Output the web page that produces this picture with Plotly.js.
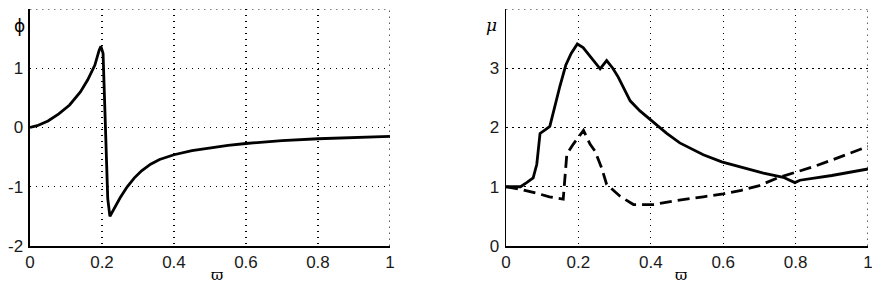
<!DOCTYPE html>
<html>
<head>
<meta charset="utf-8">
<script src="https://cdn.plot.ly/plotly-3.0.1.min.js"></script>
<style>html,body{margin:0;padding:0;background:#fff}#chart{width:872px;height:296px}</style>
</head>
<body>
<div id="chart"></div>
<script>
// Left panel: phi vs varpi
const phiX = [0, 0.02, 0.05, 0.08, 0.11, 0.14, 0.16, 0.18, 0.192, 0.197, 0.203, 0.21, 0.216, 0.222, 0.235, 0.25, 0.27, 0.29, 0.31, 0.335, 0.36, 0.4, 0.45, 0.5, 0.55, 0.6, 0.7, 0.8, 0.9, 1.0];
const phiY = [0, 0.03, 0.11, 0.23, 0.38, 0.6, 0.8, 1.05, 1.3, 1.37, 1.25, -0.3, -1.2, -1.5, -1.35, -1.19, -1.0, -0.85, -0.73, -0.62, -0.54, -0.46, -0.39, -0.34, -0.3, -0.27, -0.22, -0.19, -0.165, -0.15];

// Right panel: mu vs varpi, two series
const muSolidX = [0, 0.04, 0.057, 0.075, 0.085, 0.094, 0.108, 0.121, 0.149, 0.165, 0.18, 0.197, 0.213, 0.232, 0.26, 0.278, 0.295, 0.31, 0.343, 0.37, 0.4, 0.444, 0.48, 0.545, 0.596, 0.655, 0.711, 0.766, 0.798, 0.812, 0.9, 1.0];
const muSolidY = [1.0, 1.0, 1.07, 1.15, 1.38, 1.9, 1.96, 2.02, 2.7, 3.05, 3.25, 3.41, 3.35, 3.2, 2.99, 3.13, 3.0, 2.85, 2.45, 2.28, 2.12, 1.9, 1.74, 1.54, 1.42, 1.32, 1.23, 1.16, 1.07, 1.11, 1.19, 1.3];
const muDashX = [0, 0.039, 0.085, 0.12, 0.158, 0.162, 0.168, 0.186, 0.214, 0.232, 0.246, 0.264, 0.278, 0.315, 0.352, 0.41, 0.462, 0.545, 0.6, 0.65, 0.7, 0.75, 0.8, 0.85, 0.9, 0.95, 1.0];
const muDashY = [1.0, 0.96, 0.89, 0.83, 0.79, 1.05, 1.55, 1.72, 1.95, 1.72, 1.6, 1.32, 1.04, 0.84, 0.7, 0.7, 0.76, 0.83, 0.88, 0.94, 1.02, 1.15, 1.24, 1.34, 1.45, 1.57, 1.68];

const xTicks = [0, 0.2, 0.4, 0.6, 0.8, 1];
const xTickText = ['0', '0.2', '0.4', '0.6', '0.8', '1'];
const phiTicks = [-2, -1, 0, 1];
const phiTickText = ['-2', '-1', '0', '1'];
const muTicks = [0, 1, 2, 3];
const muTickText = ['0', '1', '2', '3'];
const phiRange = [-2, 2];
const muRange = [0, 4];
const xRange = [0, 1];

const lineStyle = {color: '#000', width: 2.8};

const traces = [
  {x: phiX, y: phiY, type: 'scatter', mode: 'lines', line: lineStyle, xaxis: 'x', yaxis: 'y', hoverinfo: 'skip'},
  {x: muSolidX, y: muSolidY, type: 'scatter', mode: 'lines', line: lineStyle, xaxis: 'x2', yaxis: 'y2', hoverinfo: 'skip'},
  {x: muDashX, y: muDashY, type: 'scatter', mode: 'lines', line: {color: '#000', width: 2.8, dash: '12px,6px'}, xaxis: 'x2', yaxis: 'y2', hoverinfo: 'skip'}
];

const tickFont = {family: 'Liberation Sans, Arial, sans-serif', size: 17, color: '#1a1a1a'};
const gridDash = '1.5px,4.5px';
function xa(domain, anchor) {
  return {domain: domain, anchor: anchor, range: xRange, tickvals: xTicks, ticktext: xTickText,
    showline: true, linecolor: '#000', linewidth: 1.5, ticks: '', ticklabelstandoff: 0, ticklabeloverflow: 'allow',
    showgrid: true, gridcolor: '#000', griddash: gridDash, gridwidth: 1.2, zeroline: false,
    tickfont: tickFont, fixedrange: true};
}
function ya(domain, anchor, range, tv, tt) {
  return {domain: domain, anchor: anchor, range: range, tickvals: tv, ticktext: tt,
    showline: true, linecolor: '#000', linewidth: 1.5, ticks: '', ticklabelstandoff: 2, ticklabeloverflow: 'allow',
    showgrid: true, gridcolor: '#000', griddash: gridDash, gridwidth: 1.2, zeroline: false,
    tickfont: tickFont, fixedrange: true};
}
// dotted grid lines on the top and right edges (Plotly skips gridlines at the range ends)
function edgeLines(xr, yr, range, xRng) {
  const ln = {color: '#000', width: 1.2, dash: gridDash};
  return [
    {type: 'line', xref: xr, yref: yr, x0: xRng[0], x1: xRng[1], y0: range[1], y1: range[1], line: ln},
    {type: 'line', xref: xr, yref: yr, x0: xRng[1], x1: xRng[1], y0: range[0], y1: range[1], line: ln}
  ];
}
const yDom = [0.1689, 0.9696];
const layout = {
  width: 872, height: 296, margin: {l: 0, r: 0, t: 0, b: 0},
  paper_bgcolor: '#fff', plot_bgcolor: '#fff', showlegend: false,
  xaxis: xa([0.0344, 0.4472], 'y'),
  yaxis: ya(yDom, 'x', phiRange, phiTicks, phiTickText),
  xaxis2: xa([0.5803, 0.9954], 'y2'),
  yaxis2: ya(yDom, 'x2', muRange, muTicks, muTickText),
  shapes: edgeLines('x', 'y', phiRange, xRange).concat(edgeLines('x2', 'y2', muRange, xRange)),
  annotations: [
    {text: 'ϕ', xref: 'paper', yref: 'paper', x: 12/872, y: 1 - 14/296, showarrow: false, font: {family: 'DejaVu Sans, sans-serif', size: 17, color: '#000'}},
    {text: '<i>μ</i>', xref: 'paper', yref: 'paper', x: 491/872, y: 1 - 13/296, showarrow: false, font: {family: 'DejaVu Serif, serif', size: 17, color: '#000'}},
    {text: 'ϖ', xref: 'paper', yref: 'paper', x: 209/872, y: 1 - 286/296, showarrow: false, font: {family: 'DejaVu Serif, serif', size: 15, color: '#000'}},
    {text: 'ϖ', xref: 'paper', yref: 'paper', x: 689/872, y: 1 - 286/296, showarrow: false, font: {family: 'DejaVu Serif, serif', size: 15, color: '#000'}}
  ]
};
Plotly.newPlot('chart', traces, layout, {displayModeBar: false, staticPlot: true});
</script>
</body>
</html>
